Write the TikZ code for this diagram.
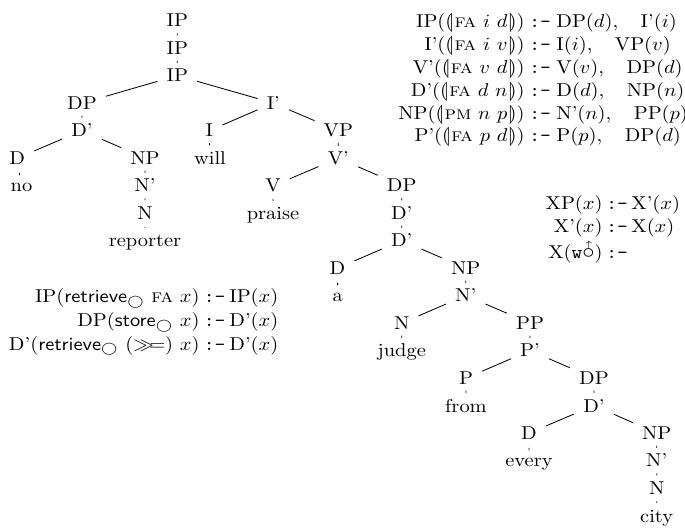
\documentclass[tikz,border=0pt]{standalone}
\newcommand\lbb{\ensuremath{(\mkern-4mu|}}
\newcommand\rbb{\ensuremath{|\mkern-4mu)}}
\newcommand\cma{,\hspace{11pt}}
\newcommand\wup{\texttt{w}\makebox[0pt][l]{\kern1.4pt\raisebox{6.2pt}{\tiny$\uparrow$}}\mbox{\large$\circ$}}
\begin{document}
\begin{tikzpicture}[x=0.5376pt,y=-0.5376pt,
  tn/.style={anchor=base,inner sep=4.3pt,xscale=1.1,transform shape},
  lhs/.style={anchor=base east,inner sep=0pt,xscale=1.1,transform shape},
  rhs/.style={anchor=base west,inner sep=0pt,xscale=1.1,transform shape},
  imp/.style={anchor=base west,inner sep=0pt,font=\ttfamily,xscale=1.1,transform shape},
  br/.style={draw,line width=0.45pt}]
\useasboundingbox (0,0) rectangle (685,530);
% ---------------- tree ----------------
\node[tn] (ip1) at (177.3,27) {IP};
\node[tn] (ip2) at (177.3,54.5) {IP};
\node[tn] (ip3) at (177.3,82) {IP};
\node[tn] (dp1) at (82,109.5) {DP};
\node[tn] (d1b) at (82,137) {D'};
\node[tn] (d1) at (17.3,164.5) {D};
\node[tn] (no) at (21.5,192) {no};
\node[tn] (np1) at (145,164.5) {NP};
\node[tn] (n1b) at (145,192) {N'};
\node[tn] (n1) at (145,219.5) {N};
\node[tn] (rep) at (145,247) {reporter};
\node[tn] (i1b) at (273.3,109.5) {I'};
\node[tn] (i1) at (209.3,137) {I};
\node[tn] (will) at (210,164.5) {will};
\node[tn] (vp) at (338.3,137) {VP};
\node[tn] (v1b) at (338.3,164.5) {V'};
\node[tn] (v1) at (273,192) {V};
\node[tn] (praise) at (273,219.5) {praise};
\node[tn] (dp2) at (401.7,192) {DP};
\node[tn] (d2b) at (401.7,219.5) {D'};
\node[tn] (d2c) at (401.7,247) {D'};
\node[tn] (d2) at (337.5,274.5) {D};
\node[tn] (a) at (337.7,302) {a};
\node[tn] (np2) at (465.7,274.5) {NP};
\node[tn] (n2b) at (465.7,302) {N'};
\node[tn] (n2) at (401.7,329.5) {N};
\node[tn] (judge) at (401.7,357) {judge};
\node[tn] (pp) at (530,329.5) {PP};
\node[tn] (p1b) at (530,357) {P'};
\node[tn] (p1) at (466,384.5) {P};
\node[tn] (from) at (466,412) {from};
\node[tn] (dp3) at (594,384.5) {DP};
\node[tn] (d3b) at (594,412) {D'};
\node[tn] (d3) at (529,439.5) {D};
\node[tn] (every) at (529,467) {every};
\node[tn] (np3) at (656.7,439.5) {NP};
\node[tn] (n3b) at (656.7,467) {N'};
\node[tn] (n3) at (656.7,494.5) {N};
\node[tn] (city) at (656.7,522) {city};
\foreach \p/\c in {ip1/ip2,ip2/ip3,ip3/dp1,ip3/i1b,dp1/d1b,d1b/d1,d1b/np1,d1/no,
  np1/n1b,n1b/n1,n1/rep,i1b/i1,i1b/vp,i1/will,vp/v1b,v1b/v1,v1b/dp2,v1/praise,
  dp2/d2b,d2b/d2c,d2c/d2,d2c/np2,d2/a,np2/n2b,n2b/n2,n2b/pp,n2/judge,pp/p1b,
  p1b/p1,p1b/dp3,p1/from,dp3/d3b,d3b/d3,d3b/np3,d3/every,np3/n3b,n3b/n3,n3/city}
  \draw[br] (\p) -- (\c);
% ---------------- rules, top right ----------------
\node[lhs] (r1l) at (525,28) {IP(\lbb\textsc{fa} $i$ $d$\rbb)};
\node[imp] (r1i) at (529,28) {:-};
\node[rhs] (r1r) at (556,28) {DP($d$)\cma I'($i$)};
\node[lhs] (r2l) at (525,50.8) {I'(\lbb\textsc{fa} $i$ $v$\rbb)};
\node[imp] (r2i) at (529,50.8) {:-};
\node[rhs] (r2r) at (556,50.8) {I($i$)\cma VP($v$)};
\node[lhs] (r3l) at (525,73.6) {V'(\lbb\textsc{fa} $v$ $d$\rbb)};
\node[imp] (r3i) at (529,73.6) {:-};
\node[rhs] (r3r) at (556,73.6) {V($v$)\cma DP($d$)};
\node[lhs] (r4l) at (525,96.4) {D'(\lbb\textsc{fa} $d$ $n$\rbb)};
\node[imp] (r4i) at (529,96.4) {:-};
\node[rhs] (r4r) at (556,96.4) {D($d$)\cma NP($n$)};
\node[lhs] (r5l) at (525,119.2) {NP(\lbb\textsc{pm} $n$ $p$\rbb)};
\node[imp] (r5i) at (529,119.2) {:-};
\node[rhs] (r5r) at (556,119.2) {N'($n$)\cma PP($p$)};
\node[lhs] (r6l) at (525,142) {P'(\lbb\textsc{fa} $p$ $d$\rbb)};
\node[imp] (r6i) at (529,142) {:-};
\node[rhs] (r6r) at (556,142) {P($p$)\cma DP($d$)};
% ---------------- rules, middle right ----------------
\node[lhs] (x1l) at (603,210) {XP($x$)};
\node[imp] (x1i) at (606,210) {:-};
\node[rhs] (x1r) at (631,210) {X'($x$)};
\node[lhs] (x2l) at (603,233) {X'($x$)};
\node[imp] (x2i) at (606,233) {:-};
\node[rhs] (x2r) at (631,233) {X($x$)};
\node[lhs] (x3l) at (603,259) {X(\wup)};
\node[imp] (x3i) at (606,259) {:-};
% ---------------- rules, left ----------------
\node[lhs] (s1l) at (200,303) {IP(\textsf{retrieve}$_{\bigcirc}$ \textsc{fa} $x$)};
\node[imp] (s1i) at (203.5,303) {:-};
\node[rhs] (s1r) at (229,303) {IP($x$)};
\node[lhs] (s2l) at (200,326.5) {DP(\textsf{store}$_{\bigcirc}$ $x$)};
\node[imp] (s2i) at (203.5,326.5) {:-};
\node[rhs] (s2r) at (229,326.5) {D'($x$)};
\node[lhs] (s3l) at (200,350) {D'(\textsf{retrieve}$_{\bigcirc}$ $({\gg}\mkern-4mu{=})$ $x$)};
\node[imp] (s3i) at (203.5,350) {:-};
\node[rhs] (s3r) at (229,350) {D'($x$)};
\end{tikzpicture}
\end{document}
